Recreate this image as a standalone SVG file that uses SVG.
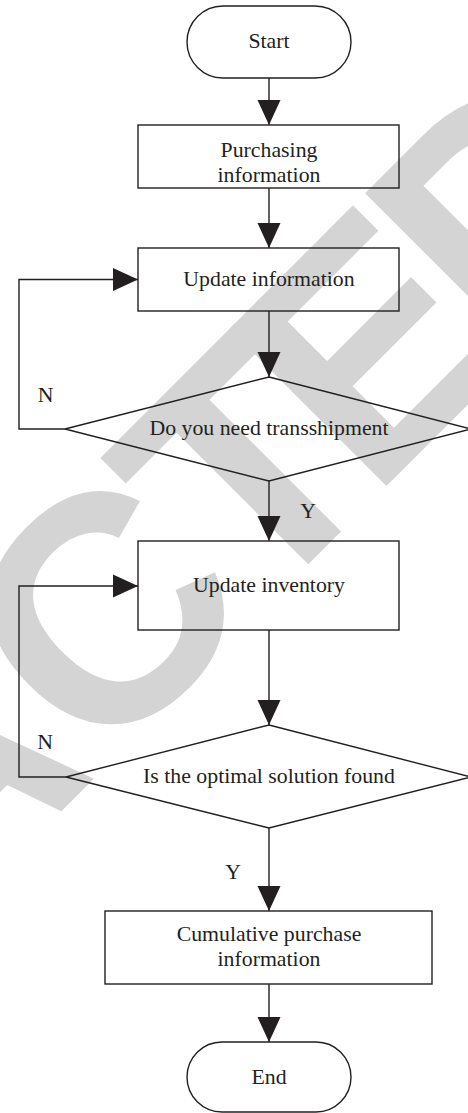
<svg xmlns="http://www.w3.org/2000/svg" width="468" height="1113" viewBox="0 0 468 1113">
  <style>
    .shape { fill: none; stroke: #231f20; stroke-width: 1.4; }
    .edge { fill: none; stroke: #231f20; stroke-width: 1.4; }
    .label { font-family: "Liberation Serif", "Times New Roman", serif; font-size: 21.8px; fill: #231f20; text-anchor: middle; }
    .mark { font-family: "Liberation Sans", Arial, sans-serif; font-weight: bold; font-size: 323px; fill: #d4d4d4; }
  </style>
  <defs>
    <marker id="arrow" markerUnits="userSpaceOnUse" markerWidth="26" markerHeight="24" viewBox="0 0 26 24" refX="25" refY="12" orient="auto">
      <path d="M0,0.5 L25,12 L0,23.5 Z" fill="#231f20"/>
    </marker>
  </defs>

  <rect width="468" height="1113" fill="#ffffff"/>

  <!-- diagonal stamp behind the chart -->
  <g id="stamp" transform="rotate(-45)">
    <text class="mark" x="-709 -477 -256.5 -92 100" y="617">ACTED</text>
  </g>

  <g id="connectors">
    <line class="edge" x1="269" y1="78" x2="269" y2="125" marker-end="url(#arrow)"/>
    <line class="edge" x1="269" y1="188" x2="269" y2="248" marker-end="url(#arrow)"/>
    <line class="edge" x1="269" y1="311" x2="269" y2="377" marker-end="url(#arrow)"/>
    <line class="edge" x1="269" y1="481" x2="269" y2="541" marker-end="url(#arrow)"/>
    <line class="edge" x1="269" y1="630" x2="269" y2="725" marker-end="url(#arrow)"/>
    <line class="edge" x1="269" y1="828" x2="269" y2="911" marker-end="url(#arrow)"/>
    <line class="edge" x1="269" y1="984" x2="269" y2="1042" marker-end="url(#arrow)"/>
    <polyline class="edge" points="65,429 19,429 19,279.5 138,279.5" marker-end="url(#arrow)"/>
    <polyline class="edge" points="66,777 19,777 19,586 138,586" marker-end="url(#arrow)"/>
    <text class="label" x="45.5" y="402">N</text>
    <text class="label" x="308" y="518">Y</text>
    <text class="label" x="45" y="749">N</text>
    <text class="label" x="233" y="879">Y</text>
  </g>

  <g id="start">
    <rect class="shape" x="187" y="6" width="164" height="72" rx="36" ry="36"/>
    <text class="label" x="269" y="48">Start</text>
  </g>

  <g id="purchasing">
    <rect class="shape" x="138" y="125" width="261" height="63"/>
    <text class="label" x="269" y="157">Purchasing</text>
    <text class="label" x="269" y="182">information</text>
  </g>

  <g id="update-info">
    <rect class="shape" x="138" y="248" width="261" height="63"/>
    <text class="label" x="269" y="286">Update information</text>
  </g>

  <g id="transship">
    <polygon class="shape" points="269,377 471,429 269,481 65,429"/>
    <text class="label" x="269" y="435">Do you need transshipment</text>
  </g>

  <g id="update-inventory">
    <rect class="shape" x="138" y="541" width="261" height="89"/>
    <text class="label" x="269" y="592">Update inventory</text>
  </g>

  <g id="optimal">
    <polygon class="shape" points="269,725 471,777 269,828 66,777"/>
    <text class="label" x="269" y="783">Is the optimal solution found</text>
  </g>

  <g id="cumulative">
    <rect class="shape" x="105" y="911" width="327" height="73"/>
    <text class="label" x="269" y="941">Cumulative purchase</text>
    <text class="label" x="269" y="966">information</text>
  </g>

  <g id="end">
    <rect class="shape" x="187" y="1042" width="164" height="70" rx="35" ry="35"/>
    <text class="label" x="269" y="1084">End</text>
  </g>
</svg>
